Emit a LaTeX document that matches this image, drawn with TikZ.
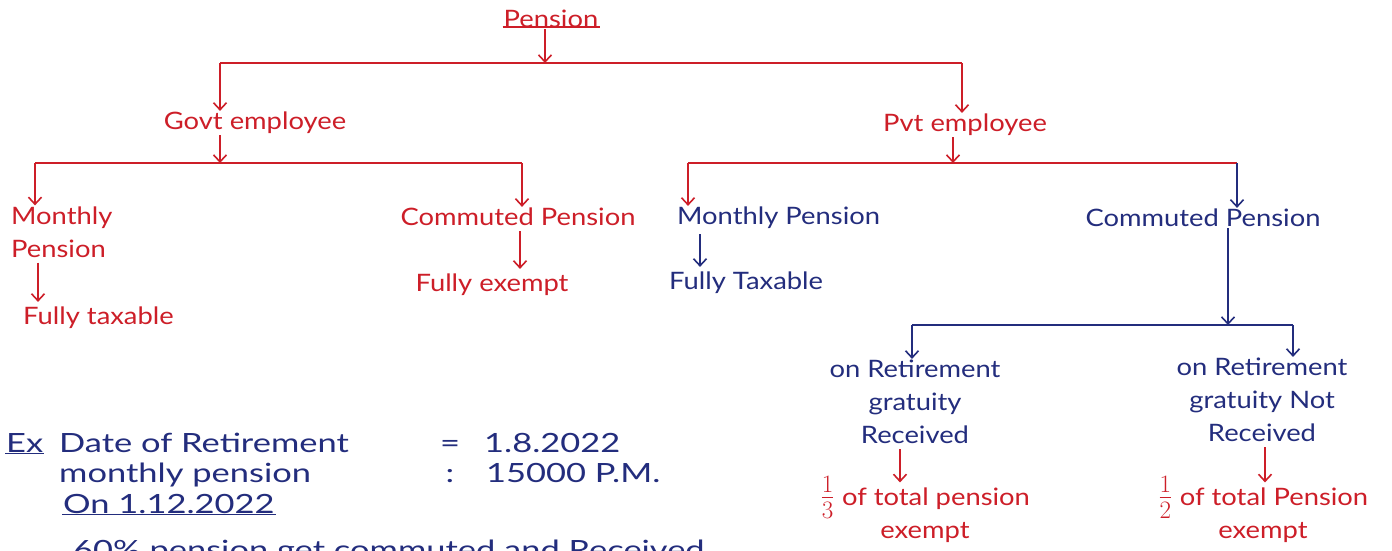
\documentclass[tikz,border=0pt]{standalone}
\usepackage{fontspec}
\setmainfont{Lato}[FakeStretch=1.14]
\newfontfamily\exfont{Lato}[FakeStretch=1.3]
\usetikzlibrary{arrows.meta}
\definecolor{penred}{RGB}{205,30,40}
\definecolor{penblue}{RGB}{35,45,125}
\newcommand{\bigfrac}[2]{\smash{\raisebox{-1pt}{\scalebox{1.45}{$\frac{#1}{#2}$}}}}
\begin{document}
\begin{tikzpicture}[x=1pt,y=-1pt,
  lbl/.style={inner sep=1pt,font=\fontsize{24}{33}\selectfont},
  redtxt/.style={lbl,text=penred},
  bluetxt/.style={lbl,text=penblue},
  extxt/.style={inner sep=1pt,text=penblue,font=\exfont\fontsize{26.5}{30}\selectfont},
  bar/.style={line width=1.6pt},
  drop/.style={line width=1.6pt,-{Straight Barb[length=7pt,width=13pt,line width=1.6pt]}},
  sdrop/.style={drop,shorten <=4pt,shorten >=4pt},
  uline/.style={line width=1.3pt}
]
\useasboundingbox (0,0) rectangle (1392,550);
\fill[white] (0,0) rectangle (1392,550);
\begin{scope}
\clip (0,0) rectangle (1392,550);

% ---- root ----
\node[redtxt] (pension) at (551,19) {Pension};
\draw[uline,penred] ([yshift=2pt]pension.south west) -- ([yshift=2pt]pension.south east);
\coordinate (b1L) at (220,63);
\coordinate (b1M) at (545,63);
\coordinate (b1R) at (962,63);
\draw[drop,penred] (pension.south -| b1M) -- (b1M);
\draw[bar,penred] (b1L) -- (b1R);

\node[redtxt] (govt) at (255,123) {Govt employee};
\node[redtxt] (pvt) at (965,125) {Pvt employee};
\draw[drop,penred] (b1L) -- (b1L |- govt.north);
\draw[drop,penred] (b1R) -- (b1R |- pvt.north);

% ---- government employee ----
\coordinate (b2L) at (35,163);
\coordinate (b2M) at (220,163);
\coordinate (b2R) at (522,163);
\draw[drop,penred] (govt.south -| b2M) -- (b2M);
\draw[bar,penred] (b2L) -- (b2R);

\node[redtxt,align=left,anchor=west] (gmon) at (10,232) {Monthly\\Pension};
\draw[drop,penred] (b2L) -- (b2L |- gmon.north);
\node[redtxt,anchor=west] (gtax) at (22,318) {Fully taxable};
\coordinate (gax) at (38,0);
\draw[sdrop,penred] (gmon.south -| gax) -- (gtax.north -| gax);

\node[redtxt] (gcom) at (518,217) {Commuted Pension};
\draw[drop,penred] (b2R) -- (b2R |- gcom.north);
\node[redtxt] (gexe) at (492,285) {Fully exempt};
\coordinate (gcx) at (520,0);
\draw[sdrop,penred] (gcom.south -| gcx) -- (gexe.north -| gcx);

% ---- private employee ----
\coordinate (b3L) at (688,163);
\coordinate (b3M) at (953,163);
\coordinate (b3R) at (1237,163);
\draw[drop,penred] (pvt.south -| b3M) -- (b3M);
\draw[bar,penred] (b3L) -- (b3R);

\node[bluetxt,anchor=west] (pmon) at (676,218) {Monthly Pension};
\draw[drop,penred] (b3L) -- (b3L |- pmon.north);
\node[bluetxt,anchor=west] (ptax) at (668,283) {Fully Taxable};
\coordinate (pax) at (700,0);
\draw[sdrop,penblue] (pmon.south -| pax) -- (ptax.north -| pax);

\node[bluetxt] (pcom) at (1203,218) {Commuted Pension};
\draw[drop,penblue] (b3R) -- (b3R |- pcom.north);

\coordinate (b4L) at (912,325);
\coordinate (b4M) at (1228,325);
\coordinate (b4R) at (1293,325);
\draw[drop,penblue] (pcom.south -| b4M) -- (b4M);
\draw[bar,penblue] (b4L) -- (b4R);

\node[bluetxt,align=center] (rec) at (915,402) {on Retirement\\gratuity\\Received};
\draw[drop,penblue] (b4L) -- (b4L |- rec.north);
\node[bluetxt,align=center] (nrec) at (1262,400) {on Retirement\\gratuity Not\\Received};
\draw[drop,penblue] (b4R) -- (b4R |- nrec.north);

\node[redtxt,align=center] (third) at (925,515) {\bigfrac{1}{3} of total pension\\exempt};
\coordinate (tx) at (900,0);
\draw[sdrop,penred] (rec.south -| tx) -- (third.north -| tx);
\node[redtxt,align=center] (half) at (1263,515) {\bigfrac{1}{2} of total Pension\\exempt};
\coordinate (hx) at (1265,0);
\draw[sdrop,penred] (nrec.south -| hx) -- (half.north -| hx);

% ---- worked example ----
\node[extxt,anchor=base west] (ex) at (5,452) {Ex};
\draw[uline,penblue] (ex.south west) -- (ex.south east);
\node[extxt,anchor=base west] (l1) at (58,452) {Date of Retirement};
\node[extxt,anchor=base] (eq1) at (450,452) {=};
\node[extxt,anchor=base west] (d1) at (483,452) {1.8.2022};
\node[extxt,anchor=base west] (l2) at (58,482) {monthly pension};
\node[extxt,anchor=base] (c2) at (450,482) {:};
\node[extxt,anchor=base west] (v2) at (485,482) {15000 P.M.};
\node[extxt,anchor=base west] (l3) at (62,513) {On 1.12.2022};
\draw[uline,penblue] (l3.south west) -- (l3.south east);
\node[extxt,anchor=base west] (l4) at (72,559) {60\% pension get commuted and Received};
\end{scope}
\end{tikzpicture}
\end{document}
